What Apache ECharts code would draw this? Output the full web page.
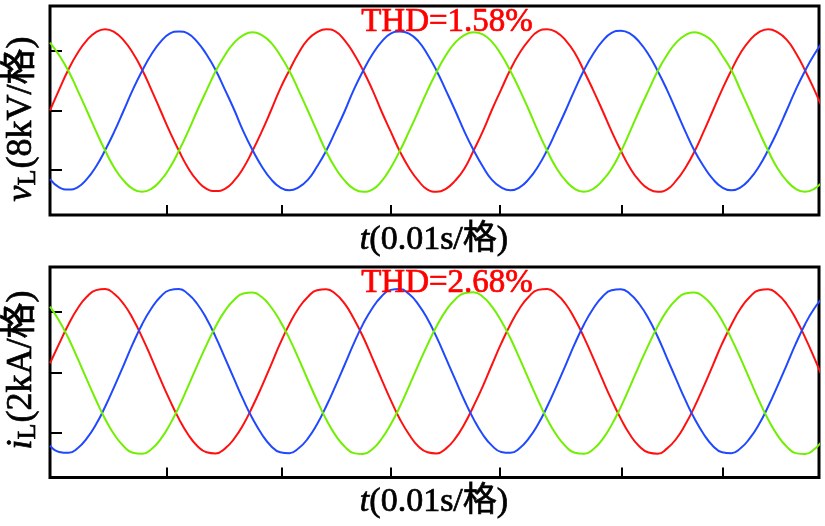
<!DOCTYPE html>
<html><head><meta charset="utf-8">
<script src="https://cdn.jsdelivr.net/npm/echarts@6/dist/echarts.min.js"></script>
<style>html,body{margin:0;padding:0;background:#fff}#c{width:825px;height:526px}</style>
</head><body><div id="c"></div>
<script>
// time axis (ms), 0.01 s per division
const timeMs = [0, 0.83, 1.67, 2.5, 3.33, 4.17, 5, 5.83, 6.67, 7.5, 8.33, 9.17,
  10, 10.83, 11.67, 12.5, 13.33, 14.17, 15, 15.83, 16.67, 17.5, 18.33, 19.17,
  20, 20.83, 21.67, 22.5, 23.33, 24.17, 25, 25.83, 26.67, 27.5, 28.33, 29.17,
  30, 30.83, 31.67, 32.5, 33.33, 34.17, 35, 35.83, 36.67, 37.5, 38.33, 39.17,
  40, 40.83, 41.67, 42.5, 43.33, 44.17, 45, 45.83, 46.67, 47.5, 48.33, 49.17,
  50, 50.83, 51.67, 52.5, 53.33, 54.17, 55, 55.83, 56.67, 57.5, 58.33, 59.17,
  60, 60.83, 61.67, 62.5, 63.33, 64.17, 65, 65.83, 66.67, 67.5, 68.33, 69.17,
  70];
const xTicks = [10.59, 21.0, 30.86, 40.72, 51.76, 60.9];
const vTicks = [-8, 0, 8];
const iTicks = [-2, 0, 2];

// load voltage (kV)
const vRed = [0.0, 2.8, 5.5, 7.7, 9.4, 10.5, 10.9, 10.5, 9.4, 7.7, 5.5, 2.8, 0.0, -2.8, -5.4, -7.7, -9.4, -10.5, -10.8, -10.5, -9.4, -7.7, -5.4, -2.8,
  0.0, 2.9, 5.4, 7.7, 9.5, 10.5, 10.9, 10.6, 9.4, 7.6, 5.4, 2.8, -0.1, -2.8, -5.5, -7.7, -9.4, -10.6, -10.9, -10.5, -9.4, -7.8, -5.4, -2.8,
  0.1, 2.8, 5.5, 7.7, 9.4, 10.6, 10.9, 10.5, 9.4, 7.7, 5.3, 2.7, 0.0, -2.8, -5.4, -7.7, -9.4, -10.5, -10.9, -10.6, -9.4, -7.7, -5.5, -2.8,
  0.0, 2.8, 5.4, 7.7, 9.4, 10.5, 10.9, 10.5, 9.5, 7.7, 5.4, 2.8, 0.0];
const vBlue = [-9.2, -10.3, -10.6, -10.3, -9.2, -7.5, -5.3, -2.8, 0.0, 2.8, 5.3, 7.5, 9.2, 10.3, 10.6, 10.3, 9.2, 7.5, 5.4, 2.8, 0.1, -2.8, -5.3, -7.5,
  -9.2, -10.3, -10.7, -10.3, -9.3, -7.5, -5.4, -2.8, -0.1, 2.8, 5.3, 7.5, 9.2, 10.3, 10.6, 10.3, 9.3, 7.5, 5.3, 2.7, 0.0, -2.8, -5.3, -7.5,
  -9.3, -10.3, -10.7, -10.3, -9.2, -7.5, -5.3, -2.7, 0.0, 2.8, 5.4, 7.6, 9.3, 10.4, 10.7, 10.3, 9.2, 7.5, 5.3, 2.8, 0.0, -2.8, -5.4, -7.5,
  -9.2, -10.3, -10.7, -10.3, -9.2, -7.5, -5.3, -2.8, 0.0, 2.8, 5.3, 7.5, 9.3];
const vGreen = [9.1, 7.4, 5.3, 2.7, 0.0, -2.8, -5.4, -7.7, -9.4, -10.5, -10.9, -10.5, -9.4, -7.7, -5.4, -2.8, 0.0, 2.7, 5.3, 7.4, 9.1, 10.1, 10.5, 10.1,
  9.1, 7.4, 5.3, 2.7, 0.0, -2.8, -5.5, -7.7, -9.4, -10.5, -10.9, -10.6, -9.5, -7.7, -5.4, -2.8, -0.1, 2.7, 5.2, 7.4, 9.1, 10.1, 10.5, 10.2,
  9.2, 7.5, 5.3, 2.8, 0.1, -2.8, -5.4, -7.7, -9.4, -10.5, -10.9, -10.5, -9.4, -7.8, -5.5, -2.8, 0.0, 2.7, 5.3, 7.4, 9.1, 10.1, 10.5, 10.1,
  9.2, 7.4, 5.4, 2.7, 0.0, -2.8, -5.4, -7.7, -9.4, -10.5, -10.9, -10.5, -9.4];

// load current (kA)
const iRed = [0.30, 0.95, 1.59, 2.12, 2.51, 2.73, 2.77, 2.60, 2.27, 1.78, 1.17, 0.48, -0.24, -0.92, -1.55, -2.07, -2.45, -2.66, -2.70, -2.54, -2.21, -1.74, -1.14, -0.47,
  0.24, 0.96, 1.60, 2.13, 2.50, 2.73, 2.76, 2.61, 2.28, 1.78, 1.18, 0.48, -0.23, -0.92, -1.56, -2.07, -2.46, -2.66, -2.70, -2.54, -2.21, -1.73, -1.13, -0.47,
  0.25, 0.95, 1.59, 2.12, 2.51, 2.74, 2.77, 2.60, 2.27, 1.77, 1.16, 0.47, -0.24, -0.92, -1.55, -2.08, -2.46, -2.67, -2.71, -2.54, -2.22, -1.74, -1.15, -0.47,
  0.24, 0.95, 1.58, 2.12, 2.50, 2.73, 2.76, 2.60, 2.27, 1.78, 1.17, 0.48, -0.25];
const iBlue = [-2.44, -2.65, -2.68, -2.53, -2.20, -1.73, -1.14, -0.47, 0.24, 0.95, 1.59, 2.12, 2.51, 2.73, 2.77, 2.60, 2.27, 1.78, 1.17, 0.48, -0.23, -0.92, -1.54, -2.06,
  -2.45, -2.66, -2.69, -2.53, -2.21, -1.73, -1.13, -0.46, 0.25, 0.96, 1.60, 2.13, 2.52, 2.74, 2.77, 2.60, 2.26, 1.77, 1.16, 0.47, -0.24, -0.93, -1.55, -2.07,
  -2.44, -2.65, -2.68, -2.53, -2.20, -1.73, -1.14, -0.47, 0.24, 0.95, 1.59, 2.12, 2.51, 2.73, 2.76, 2.60, 2.27, 1.79, 1.18, 0.48, -0.23, -0.92, -1.54, -2.06,
  -2.45, -2.66, -2.69, -2.53, -2.20, -1.73, -1.14, -0.47, 0.24, 0.95, 1.59, 2.12, 2.51];
const iGreen = [2.18, 1.71, 1.13, 0.46, -0.24, -0.93, -1.56, -2.08, -2.46, -2.68, -2.71, -2.56, -2.23, -1.75, -1.15, -0.47, 0.23, 0.91, 1.53, 2.04, 2.41, 2.62, 2.65, 2.50,
  2.17, 1.70, 1.12, 0.45, -0.25, -0.94, -1.57, -2.09, -2.47, -2.69, -2.72, -2.56, -2.22, -1.74, -1.14, -0.46, 0.24, 0.92, 1.54, 2.05, 2.42, 2.63, 2.66, 2.51,
  2.18, 1.71, 1.13, 0.46, -0.24, -0.93, -1.56, -2.08, -2.46, -2.68, -2.71, -2.56, -2.23, -1.75, -1.15, -0.47, 0.23, 0.91, 1.53, 2.04, 2.41, 2.62, 2.65, 2.50,
  2.18, 1.71, 1.12, 0.46, -0.24, -0.94, -1.57, -2.09, -2.47, -2.69, -2.72, -2.56, -2.23];

const thdTexts = ['THD=1.58%', 'THD=2.68%'];

const RED = '#ff1010', BLUE = '#1f48ff', GREEN = '#70f000';
const SERIF = "'Liberation Serif','Times New Roman','Noto Sans CJK SC',serif";

const chart = echarts.init(document.getElementById('c'), null, {renderer: 'canvas'});
const pair = arr => timeMs.map((t, i) => [t, arr[i]]);

function xAx(gi) {
  return {
    type: 'value', gridIndex: gi, min: 0, max: 69.6, position: 'bottom',
    axisLine: {show: false, onZero: false},
    axisTick: {show: true, inside: true, length: 10, customValues: xTicks,
      lineStyle: {color: '#000', width: 2}},
    axisLabel: {show: false}, splitLine: {show: false}
  };
}
function yAx(gi, lim, ticks) {
  return {
    type: 'value', gridIndex: gi, min: -lim, max: lim, position: 'left',
    axisLine: {show: false, onZero: false},
    axisTick: {show: true, inside: true, length: 12, customValues: ticks,
      lineStyle: {color: '#000', width: 2}},
    axisLabel: {show: false}, splitLine: {show: false}
  };
}
function ser(gi, arr, color) {
  return {
    type: 'line', xAxisIndex: gi, yAxisIndex: gi, data: pair(arr),
    showSymbol: false, smooth: 0.5, clip: true,
    lineStyle: {color: color, width: 2}, silent: true
  };
}
function rich(sz, subSz, subPad) {
  const base = {fontSize: sz, fontFamily: SERIF, fill: '#000', stroke: '#000', lineWidth: 0.7};
  return {
    it: Object.assign({}, base, {fontStyle: 'italic'}),
    s: Object.assign({}, base, {fontSize: subSz, padding: [subPad, 1, 0, 0]}),
    n: base
  };
}

const option = {
  animation: false,
  backgroundColor: '#fff',
  grid: [
    {left: 50, top: 6, width: 769, height: 209, show: true, borderColor: '#000', borderWidth: 3, backgroundColor: 'transparent'},
    {left: 50, top: 267, width: 769, height: 210.5, show: true, borderColor: '#000', borderWidth: 3, backgroundColor: 'transparent'}
  ],
  xAxis: [xAx(0), xAx(1)],
  yAxis: [yAx(0, 14, vTicks), yAx(1, 3.5, iTicks)],
  series: [
    ser(0, vRed, RED), ser(0, vBlue, BLUE), ser(0, vGreen, GREEN),
    ser(1, iRed, RED), ser(1, iBlue, BLUE), ser(1, iGreen, GREEN)
  ],
  graphic: [
    {type: 'text', x: 447, y: 22, z: 100, style: {text: thdTexts[0], fill: '#ff0000',
      stroke: '#ff0000', lineWidth: 0.7,
      font: '33px ' + SERIF, align: 'center', verticalAlign: 'middle'}},
    {type: 'text', x: 447, y: 283, z: 100, style: {text: thdTexts[1], fill: '#ff0000',
      stroke: '#ff0000', lineWidth: 0.7,
      font: '33px ' + SERIF, align: 'center', verticalAlign: 'middle'}},
    {type: 'text', x: 434, y: 240, z: 100, style: {
      text: '{it|t}{n|(0.01s/格)}', align: 'center', verticalAlign: 'middle', rich: rich(34, 24, 0)}},
    {type: 'text', x: 434, y: 502, z: 100, style: {
      text: '{it|t}{n|(0.01s/格)}', align: 'center', verticalAlign: 'middle', rich: rich(34, 24, 0)}},
    {type: 'text', x: 22, y: 119, rotation: Math.PI / 2, z: 100, style: {
      text: '{it|v}{s|L}{n|(8kV/格)}', align: 'center', verticalAlign: 'middle', rich: rich(36, 26, 12)}},
    {type: 'text', x: 22, y: 370, rotation: Math.PI / 2, z: 100, style: {
      text: '{it|i}{s|L}{n|(2kA/格)}', align: 'center', verticalAlign: 'middle', rich: rich(36, 26, 12)}}
  ]
};
chart.setOption(option);
</script></body></html>
